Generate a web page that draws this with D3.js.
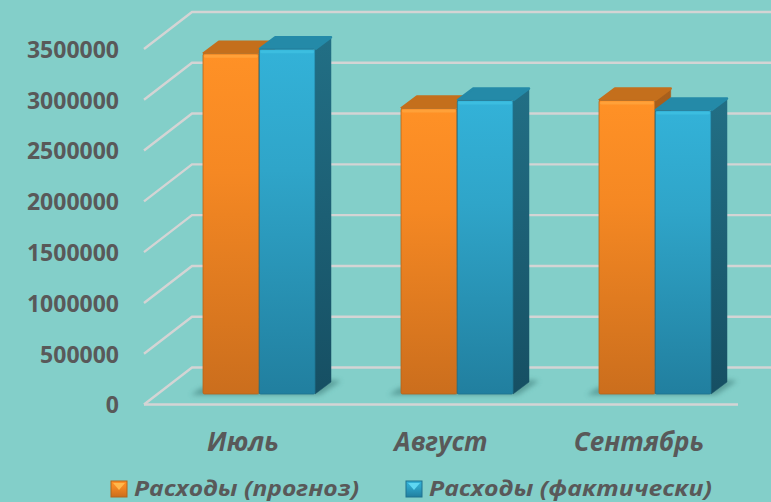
<!DOCTYPE html>
<html lang="ru">
<head>
    <meta charset="UTF-8">
    <title>Расходы</title>
    <script src="https://d3js.org/d3.v7.min.js"></script>
    <style>
        html, body { margin: 0; padding: 0; background: #83cfc9; }
        svg { display: block; }
        text { font-family: "Open Sans", "Noto Sans", sans-serif; font-weight: 700; fill: #595959; }
        .axis path, .axis line { display: none; }
        .grid { stroke: #d4d4d4; stroke-width: 2.4; fill: none; }
    </style>
</head>
<body>
    <svg id="chart" width="771" height="502"></svg>
    <script>
        // values
        const months = ["Июль", "Август", "Сентябрь"];
        const forecast = [3350000, 2810000, 2890000];
        const actual = [3395000, 2890000, 2790000];
        const seriesNames = ["Расходы (прогноз)", "Расходы (фактически)"];
        const yTicks = [0, 500000, 1000000, 1500000, 2000000, 2500000, 3000000, 3500000];

        const width = 771, height = 502;
        const depth = { x: 48, y: -37 };      // floor depth, front to back
        const barDepth = { x: 16, y: -12 };   // depth of a single bar
        const barShift = { x: 16, y: -10.5 }; // where bars stand on the floor

        const svg = d3.select("#chart");
        const defs = svg.append("defs");

        const x = d3.scaleBand().domain(months).range([144, 738]);
        const y = d3.scaleLinear().domain([0, 3500000]).range([404.5, 49]);

        function gradient(id, stops) {
            const g = defs.append("linearGradient").attr("id", id)
                .attr("x1", 0).attr("y1", 0).attr("x2", 0).attr("y2", 1);
            stops.forEach(s => g.append("stop").attr("offset", s[0]).attr("stop-color", s[1]));
        }
        gradient("orangeFront", [["0%", "#ff9126"], ["35%", "#f58823"], ["100%", "#cb6e1d"]]);
        gradient("blueFront", [["0%", "#33b2d8"], ["35%", "#2fa5c9"], ["100%", "#217f9f"]]);
        gradient("orangeSide", [["0%", "#a9601c"], ["100%", "#7f4714"]]);
        gradient("blueSide", [["0%", "#226f85"], ["100%", "#164f63"]]);

        const blur = defs.append("filter").attr("id", "soft")
            .attr("x", "-30%").attr("y", "-100%").attr("width", "160%").attr("height", "300%");
        blur.append("feGaussianBlur").attr("stdDeviation", 2.5);

        const colors = [
            { front: "url(#orangeFront)", side: "url(#orangeSide)", top: "#c46f1c", edge: "#ffa53f", line: "#b4661c" },
            { front: "url(#blueFront)", side: "url(#blueSide)", top: "#248aa8", edge: "#3fc0e2", line: "#1f7390" }
        ];

        // gridlines: side wall plus back wall
        const grid = svg.append("g");
        yTicks.forEach(t => {
            grid.append("path").attr("class", "grid")
                .attr("d", d3.line()([
                    [x.range()[0], y(t)],
                    [x.range()[0] + depth.x, y(t) + depth.y],
                    [x.range()[1] + 33, y(t) + depth.y]
                ]));
        });
        // floor front edge
        grid.append("path").attr("class", "grid")
            .attr("d", d3.line()([[x.range()[0], y(0)], [x.range()[1], y(0)]]));

        // y axis labels
        svg.append("g").attr("class", "axis")
            .attr("transform", "translate(122,1)")
            .call(d3.axisLeft(y).tickValues(yTicks).tickFormat(d3.format("d")).tickSize(0))
            .call(g => g.selectAll("text").style("font-size", "23px").style("font-family", null));

        const inner = d3.scaleBand().domain([0, 1]).range([59, 171]).paddingInner(0.01);
        const base = y(0) + barShift.y;
        const h = v => y(0) - y(v);

        months.forEach((m, i) => {
            const bars = svg.append("g");
            const x0 = x(m);
            const shadowX = x0 + inner(0) - 12;
            bars.append("path")
                .attr("d", d3.line()([
                    [shadowX, base + 1], [shadowX + 10, base - 6],
                    [x0 + 190, base - 14], [x0 + 197, base - 13], [x0 + 176, base + 1]
                ]))
                .attr("fill", "#3f7f7c").attr("opacity", 0.6).attr("filter", "url(#soft)");

            [forecast[i], actual[i]].forEach((v, s) => {
                const c = colors[s];
                const left = x0 + inner(s), right = left + inner.bandwidth();
                const top = base - h(v);
                bars.append("path")
                    .attr("d", d3.line()([
                        [right, top], [right + barDepth.x, top + barDepth.y],
                        [right + barDepth.x, base + barDepth.y], [right, base]
                    ]))
                    .attr("fill", c.side).attr("stroke", c.side).attr("stroke-width", 0.5);
                bars.append("path")
                    .attr("d", d3.line()([
                        [left, top], [left + barDepth.x, top + barDepth.y],
                        [right + barDepth.x, top + barDepth.y], [right, top]
                    ]))
                    .attr("fill", c.top).attr("stroke", c.top)
                    .attr("stroke-width", 2.5).attr("stroke-linejoin", "round");
                bars.append("rect")
                    .attr("x", left).attr("y", top)
                    .attr("width", inner.bandwidth()).attr("height", base - top)
                    .attr("rx", 1.5)
                    .attr("fill", c.front).attr("stroke", c.line).attr("stroke-width", 0.8);
                bars.append("rect")
                    .attr("x", left + 1).attr("y", top + 1)
                    .attr("width", inner.bandwidth() - 2).attr("height", 3)
                    .attr("rx", 1.5)
                    .attr("fill", c.edge).attr("opacity", 0.8);
            });
        });

        // month labels
        svg.append("g").selectAll("text").data(months).join("text")
            .attr("x", d => x(d) + x.bandwidth() / 2)
            .attr("y", 451)
            .attr("text-anchor", "middle")
            .attr("font-style", "italic")
            .attr("font-size", 26)
            .text(d => d);

        // legend
        const legendX = [111, 406];
        const legendText = [225, 283];
        seriesNames.forEach((name, s) => {
            const g = svg.append("g").attr("transform", `translate(${legendX[s]},481)`);
            const c = colors[s];
            g.append("rect").attr("width", 16).attr("height", 16)
                .attr("fill", c.front).attr("stroke", c.line);
            g.append("path").attr("d", d3.line()([[2, 2], [14, 2], [8, 9]]))
                .attr("fill", s === 0 ? "#ffb84d" : "#5fd6f2");
            g.append("text").attr("x", 23).attr("y", 14.5)
                .attr("font-style", "italic").attr("font-size", 21)
                .attr("textLength", legendText[s]).attr("lengthAdjust", "spacingAndGlyphs")
                .text(name);
        });
    </script>
</body>
</html>
